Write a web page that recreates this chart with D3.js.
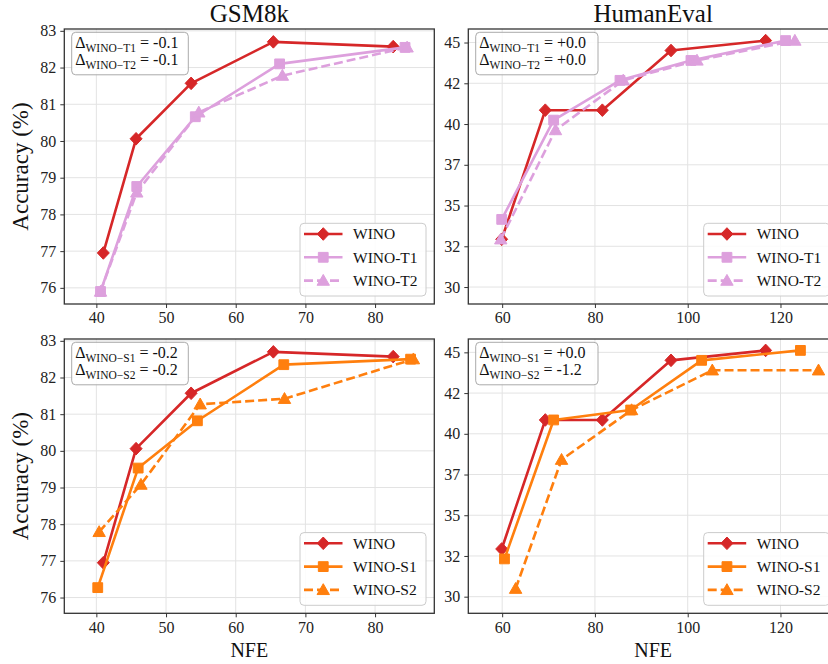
<!DOCTYPE html>
<html>
<head>
<meta charset="utf-8">
<script src="https://cdn.jsdelivr.net/npm/d3@7"></script>
<style>
  html, body { margin: 0; padding: 0; background: #fff; }
  svg, svg text { font-family: "Liberation Serif", "DejaVu Serif", serif !important; }
</style>
</head>
<body>
<svg id="chart" width="828" height="664"></svg>
<script>
// ---------------- DATA ----------------
const seriesNames = ["WINO", "WINO-T1", "WINO-T2", "WINO-S1", "WINO-S2"];

// GSM8k
const gsmWinoNFE = [41.0, 45.7, 53.6, 65.4, 82.6];
const gsmWinoAcc = [76.95, 80.06, 81.57, 82.70, 82.57];
const gsmT1NFE   = [40.6, 45.8, 54.2, 66.3, 84.3];
const gsmT1Acc   = [75.90, 78.76, 80.66, 82.10, 82.55];
const gsmT2NFE   = [40.6, 45.8, 54.7, 66.7, 84.6];
const gsmT2Acc   = [75.90, 78.60, 80.78, 81.78, 82.55];
const gsmS1NFE   = [40.2, 46.0, 54.5, 66.9, 85.1];
const gsmS1Acc   = [76.27, 79.53, 80.82, 82.35, 82.50];
const gsmS2NFE   = [40.4, 46.4, 54.9, 67.0, 85.5];
const gsmS2Acc   = [77.79, 79.08, 81.27, 81.42, 82.50];

// HumanEval
const heWinoNFE = [59.9, 69.3, 81.6, 96.4, 116.8];
const heWinoAcc = [32.93, 40.85, 40.85, 44.51, 45.12];
const heT1NFE   = [59.9, 71.1, 85.4, 100.7, 121.1];
const heT1Acc   = [34.15, 40.24, 42.68, 43.90, 45.12];
const heT2NFE   = [59.7, 71.5, 86.1, 102.0, 123.1];
const heT2Acc   = [32.93, 39.63, 42.68, 43.90, 45.12];
const heS1NFE   = [60.5, 71.1, 87.7, 103.0, 124.3];
const heS1Acc   = [32.32, 40.85, 41.46, 44.51, 45.12];
const heS2NFE   = [62.9, 72.8, 87.9, 105.3, 128.2];
const heS2Acc   = [30.49, 38.41, 41.46, 43.90, 43.90];

// Ticks
const gsmXTicks = [40, 50, 60, 70, 80];
const gsmYTicks = [76, 77, 78, 79, 80, 81, 82, 83];
const gsmYTickLabels = ["76", "77", "78", "79", "80", "81", "82", "83"];
const heXTicks = [60, 80, 100, 120];
const heYTicks = [30, 32.5, 35, 37.5, 40, 42.5, 45];
const heYTickLabels = ["30", "32", "35", "37", "40", "42", "45"];

// Delta annotations
const deltaGsmT = [["WINO\u2212T1", "-0.1"], ["WINO\u2212T2", "-0.1"]];
const deltaHeT  = [["WINO\u2212T1", "+0.0"], ["WINO\u2212T2", "+0.0"]];
const deltaGsmS = [["WINO\u2212S1", "-0.2"], ["WINO\u2212S2", "-0.2"]];
const deltaHeS  = [["WINO\u2212S1", "+0.0"], ["WINO\u2212S2", "-1.2"]];

// ---------------- STYLE ----------------
const FONT = "'Liberation Serif', 'DejaVu Serif', serif";
const styles = {
  "WINO":    { color: "#d62728", marker: "diamond",  dash: null },
  "WINO-T1": { color: "#dda0dd", marker: "square",   dash: null },
  "WINO-T2": { color: "#dda0dd", marker: "triangle", dash: "9,4" },
  "WINO-S1": { color: "#ff7f0e", marker: "square",   dash: null },
  "WINO-S2": { color: "#ff7f0e", marker: "triangle", dash: "9,4" }
};

function mk(name, xs, ys) { return { name, pts: xs.map((x, i) => [x, ys[i]]) }; }

const panels = [
  { left: 64.3, top: 29, w: 370, h: 275, xDom: [35.4, 88.5], yDom: [75.56, 83.05],
    xT: gsmXTicks, yT: gsmYTicks, yL: gsmYTickLabels, title: "GSM8k", ylab: true, xlab: false,
    delta: deltaGsmT,
    series: [mk("WINO", gsmWinoNFE, gsmWinoAcc), mk("WINO-T1", gsmT1NFE, gsmT1Acc), mk("WINO-T2", gsmT2NFE, gsmT2Acc)] },
  { left: 468.3, top: 29, w: 369.7, h: 275, xDom: [52.7, 132.4], yDom: [28.96, 45.83],
    xT: heXTicks, yT: heYTicks, yL: heYTickLabels, title: "HumanEval", ylab: false, xlab: false,
    delta: deltaHeT,
    series: [mk("WINO", heWinoNFE, heWinoAcc), mk("WINO-T1", heT1NFE, heT1Acc), mk("WINO-T2", heT2NFE, heT2Acc)] },
  { left: 64.3, top: 339, w: 370, h: 274.3, xDom: [35.4, 88.5], yDom: [75.57, 83.05],
    xT: gsmXTicks, yT: gsmYTicks, yL: gsmYTickLabels, title: null, ylab: true, xlab: true,
    delta: deltaGsmS,
    series: [mk("WINO", gsmWinoNFE, gsmWinoAcc), mk("WINO-S1", gsmS1NFE, gsmS1Acc), mk("WINO-S2", gsmS2NFE, gsmS2Acc)] },
  { left: 468.3, top: 339, w: 369.7, h: 274.3, xDom: [52.7, 132.4], yDom: [28.98, 45.82],
    xT: heXTicks, yT: heYTicks, yL: heYTickLabels, title: null, ylab: false, xlab: true,
    delta: deltaHeS,
    series: [mk("WINO", heWinoNFE, heWinoAcc), mk("WINO-S1", heS1NFE, heS1Acc), mk("WINO-S2", heS2NFE, heS2Acc)] }
];

const svg = d3.select("#chart");

function drawMarker(g, type, cx, cy, color) {
  let d;
  if (type === "diamond") {
    const r = 6.3;
    d = `M${cx},${cy - r}L${cx + r * 0.95},${cy}L${cx},${cy + r}L${cx - r * 0.95},${cy}Z`;
  } else if (type === "square") {
    const s = 4.9;
    d = `M${cx - s},${cy - s}H${cx + s}V${cy + s}H${cx - s}Z`;
  } else {
    const r = 6.2;
    d = `M${cx},${cy - r}L${cx + r},${cy + r * 0.75}L${cx - r},${cy + r * 0.75}Z`;
  }
  g.append("path").attr("d", d).attr("fill", color).attr("stroke", color).attr("stroke-width", 1);
}

panels.forEach((p, pi) => {
  const x = d3.scaleLinear().domain(p.xDom).range([p.left, p.left + p.w]);
  const y = d3.scaleLinear().domain(p.yDom).range([p.top + p.h, p.top]);
  const g = svg.append("g").style("font-family", FONT);

  const clipId = "clip" + pi;
  svg.append("clipPath").attr("id", clipId).append("rect")
    .attr("x", p.left).attr("y", p.top).attr("width", p.w).attr("height", p.h);

  // grid
  const grid = g.append("g");
  p.xT.forEach(v => grid.append("line").attr("x1", x(v)).attr("x2", x(v))
    .attr("y1", p.top).attr("y2", p.top + p.h).attr("stroke", "#e3e3e3").attr("stroke-width", 1));
  p.yT.forEach(v => grid.append("line").attr("y1", y(v)).attr("y2", y(v))
    .attr("x1", p.left).attr("x2", p.left + p.w).attr("stroke", "#e3e3e3").attr("stroke-width", 1));

  // series
  const plot = g.append("g").attr("clip-path", `url(#${clipId})`);
  const line = d3.line().x(d => x(d[0])).y(d => y(d[1]));
  p.series.forEach(s => {
    const st = styles[s.name];
    const sg = plot.append("g");
    sg.append("path").attr("d", line(s.pts)).attr("fill", "none")
      .attr("stroke", st.color).attr("stroke-width", 2.6)
      .attr("stroke-dasharray", st.dash).attr("stroke-linejoin", "round");
    s.pts.forEach(pt => drawMarker(sg, st.marker, x(pt[0]), y(pt[1]), st.color));
  });

  // axes
  const xAxis = d3.axisBottom(x).tickValues(p.xT).tickSize(4).tickPadding(4).tickFormat(d3.format("d"));
  const yAxis = d3.axisLeft(y).tickValues(p.yT).tickSize(4).tickPadding(4)
    .tickFormat((d, i) => p.yL[i]);
  const gx = g.append("g").attr("transform", `translate(0,${p.top + p.h})`).call(xAxis);
  const gy = g.append("g").attr("transform", `translate(${p.left},0)`).call(yAxis);
  [gx, gy].forEach(a => {
    a.attr("font-family", null).style("font-family", FONT);
    a.select(".domain").remove();
    a.selectAll(".tick line").attr("stroke", "#333").attr("stroke-width", 1);
    a.selectAll(".tick text").attr("font-size", 16).attr("fill", "#222")
      .style("font-family", FONT);
  });

  // frame
  g.append("rect").attr("x", p.left).attr("y", p.top).attr("width", p.w).attr("height", p.h)
    .attr("fill", "none").attr("stroke", "#333").attr("stroke-width", 1.3);

  // title
  if (p.title) {
    g.append("text").attr("x", p.left + p.w / 2).attr("y", 22).attr("text-anchor", "middle")
      .attr("font-size", 25).attr("fill", "#111").text(p.title);
  }
  if (p.ylab) {
    g.append("text").attr("transform", `translate(28,${p.top + p.h / 2}) rotate(-90)`)
      .attr("text-anchor", "middle").attr("font-size", 23).attr("fill", "#111").text("Accuracy (%)");
  }
  if (p.xlab) {
    g.append("text").attr("x", p.left + p.w / 2).attr("y", 657).attr("text-anchor", "middle")
      .attr("font-size", 20).attr("fill", "#111").text("NFE");
  }

  // delta box
  const db = g.append("g");
  const bx = p.left + 7.4, by = p.top + 3.3;
  const bw = pi % 2 === 0 ? 116.6 : 122.3, bh = 42.5;
  db.append("rect").attr("x", bx).attr("y", by).attr("width", bw).attr("height", bh)
    .attr("rx", 4).attr("fill", "#fff").attr("fill-opacity", 0.85)
    .attr("stroke", "#aaa").attr("stroke-width", 1);
  p.delta.forEach((dl, i) => {
    const t = db.append("text").attr("x", bx + 3.5).attr("y", by + 16 + i * 17)
      .attr("font-size", 16).attr("fill", "#111");
    t.append("tspan").text("\u0394");
    t.append("tspan").attr("font-size", 11.5).attr("dy", 3.5).text(dl[0]);
    t.append("tspan").attr("dy", -3.5).text(" = " + dl[1]);
  });

  // legend
  const lg = g.append("g");
  const lr = p.left + p.w - 8.3, lb = p.top + p.h - 8;
  const lw = 126, lh = 72.7;
  lg.append("rect").attr("x", lr - lw).attr("y", lb - lh).attr("width", lw).attr("height", lh)
    .attr("rx", 4).attr("fill", "#fff").attr("fill-opacity", 0.85)
    .attr("stroke", "#ccc").attr("stroke-width", 1);
  p.series.forEach((s, i) => {
    const st = styles[s.name];
    const cy = lb - lh + 10.7 + i * 23.3;
    const x0 = lr - lw + 4, x1 = x0 + 38.5;
    lg.append("line").attr("x1", x0).attr("x2", x1).attr("y1", cy).attr("y2", cy)
      .attr("stroke", st.color).attr("stroke-width", 2.6).attr("stroke-dasharray", st.dash);
    drawMarker(lg, st.marker, (x0 + x1) / 2, cy, st.color);
    lg.append("text").attr("x", x1 + 10.5).attr("y", cy + 5.2).attr("font-size", 15.5)
      .attr("fill", "#111").text(s.name);
  });
});
</script>
</body>
</html>
